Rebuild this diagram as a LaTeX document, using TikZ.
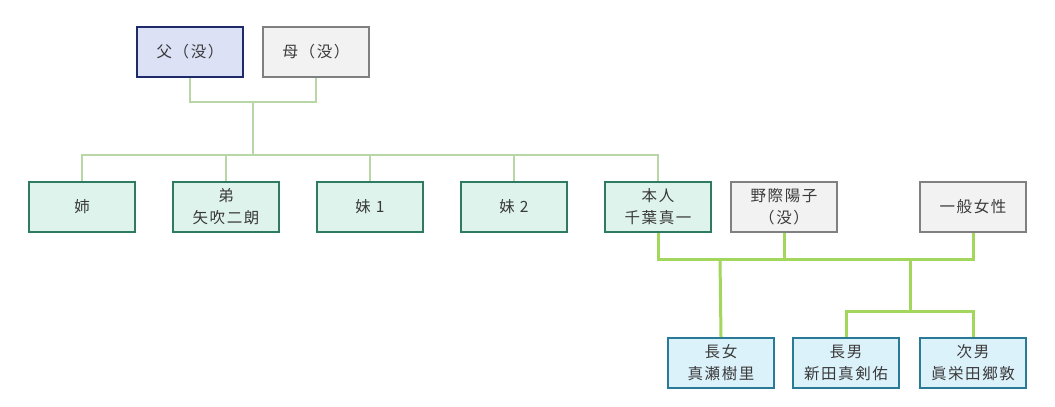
\documentclass[tikz,border=0pt]{standalone}
\usepackage{fontspec}
\setmainfont[LetterSpace=10]{Noto Sans CJK JP}
\usetikzlibrary{positioning}
\definecolor{kzink}{HTML}{3A3A3A}
\definecolor{kznavy}{HTML}{1F2A6B}
\definecolor{kzlav}{HTML}{DCE1F5}
\definecolor{kzgray}{HTML}{808080}
\definecolor{kzpale}{HTML}{F2F2F2}
\definecolor{kzgreen}{HTML}{2E7A62}
\definecolor{kzmint}{HTML}{DDF3EC}
\definecolor{kzteal}{HTML}{287A96}
\definecolor{kzsky}{HTML}{DCF2FA}
\definecolor{kzsage}{HTML}{B9D6A6}
\definecolor{kzlime}{HTML}{A3D65C}

\begin{document}
\begin{tikzpicture}[x=1pt, y=-1pt, font=\fontsize{15.5}{22}\selectfont, text=kzink,
     person/.style={draw, line width=2pt, minimum width=106pt, minimum height=50pt, inner sep=0pt, align=center},
     elder/.style={person, draw=kznavy, fill=kzlav},
     other/.style={person, draw=kzgray, fill=kzpale},
     sib/.style={person, draw=kzgreen, fill=kzmint},
     kid/.style={person, draw=kzteal, fill=kzsky},
     fam/.style={draw=kzsage, line width=2pt},
     mar/.style={draw=kzlime, line width=3pt}]
    \useasboundingbox (0,0) rectangle (1055,407);
    % parents
    \node[elder] (fa) at (190,52) {父（没）};
    \node[other] (mo) at (316,52) {母（没）};
    % siblings
    \node[sib] (ane) at (82,207) {姉};
    \node[sib] (oto) at (226,207) {弟\\矢吹二朗};
    \node[sib] (imo1) at (370,207) {妹 1};
    \node[sib] (imo2) at (514,207) {妹 2};
    \node[sib] (hon) at (658,207) {本人\\千葉真一};
    \node[other] (noz) at (784,207) {野際陽子\\（没）};
    \node[other] (ip) at (973,207) {一般女性};
    % children
    \node[kid] (cho) at (721,363) {長女\\真瀬樹里};
    \node[kid] (son1) at (846,363) {長男\\新田真剣佑};
    \node[kid] (son2) at (973,363) {次男\\眞栄田郷敦};
    \coordinate (pj) at (253,102);
    \coordinate (sb) at (253,155);
    \coordinate (m1) at (720,259);
    \coordinate (m2) at (910,259);
    \coordinate (sj) at (910,311);
    \draw[fam] (fa.south) |- (pj) -| (mo.south);
    \draw[fam] (pj) -- (sb);
    \foreach \n in {ane,oto,imo1,imo2,hon}
      \draw[fam] (sb) -| (\n.north);
    \draw[mar] (hon.south) |- (m1) -- (m2) -| (ip.south);
    \draw[mar] (noz.south) -- (noz.south |- m1);
    \draw[mar] (m1) -- (cho.north);
    \draw[mar] (m2) -- (sj);
    \draw[mar] (sj) -| (son1.north);
    \draw[mar] (sj) -| (son2.north);
  \end{tikzpicture}
\end{document}
